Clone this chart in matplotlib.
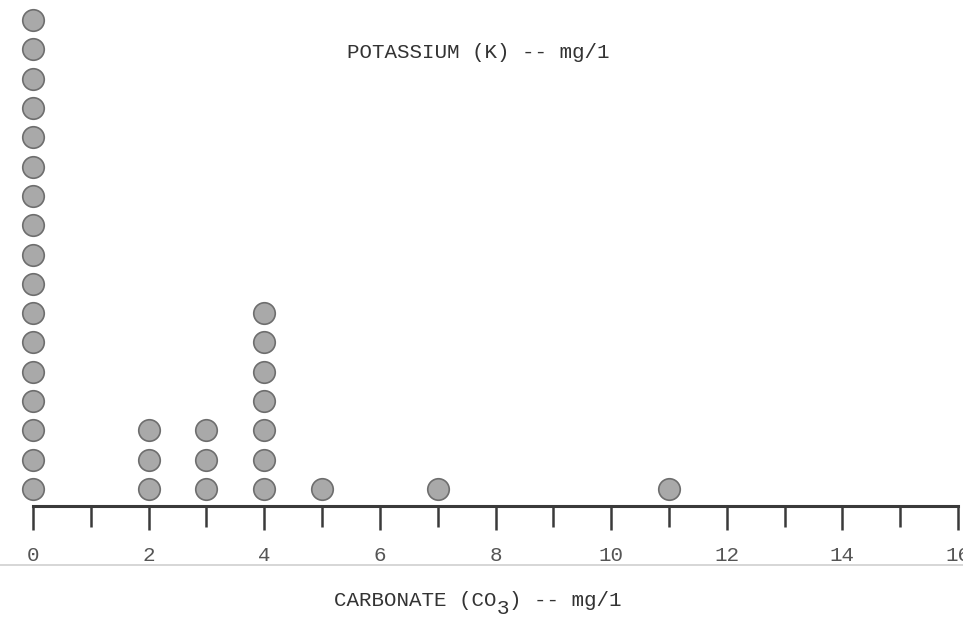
import matplotlib
matplotlib.use("Agg")
import matplotlib.pyplot as plt
from matplotlib.ticker import MultipleLocator
import numpy as np

# carbonate value (mg/l) and number of samples at that value
values = [0, 2, 3, 4, 5, 7, 11]
counts = [17, 3, 3, 7, 1, 1, 1]
tick_labels = ['0', '2', '4', '6', '8', '10', '12', '14', '16']

plt.rcParams['font.family'] = 'Liberation Mono'

ink = '#3a3a3a'

fig = plt.figure(figsize=(9.63, 6.22), dpi=100)
ax = fig.add_axes([33/963, 1 - 506/622, 925/963, 506/622])

xs = []
ys = []
for v, c in zip(values, counts):
    for k in range(1, c + 1):
        xs.append(v)
        ys.append(k)
ax.scatter(xs, ys, s=240, facecolor='#a9a9a9', edgecolor='#6e6e6e',
           linewidth=1.2, clip_on=False, zorder=3)

ax.set_xlim(0, 16)
ax.set_ylim(0.42, 17.684)

for s in ['top', 'right', 'left']:
    ax.spines[s].set_visible(False)
ax.spines['bottom'].set_linewidth(2.2)
ax.spines['bottom'].set_color(ink)
ax.set_yticks([])

ax.xaxis.set_major_locator(MultipleLocator(2))
ax.xaxis.set_minor_locator(MultipleLocator(1))
ax.set_xticks(np.arange(0, 17, 2))
ax.set_xticklabels(tick_labels)
ax.tick_params(axis='x', which='major', direction='out', length=17, width=1.8,
               color=ink, pad=12, labelsize=15, labelcolor='#555555')
ax.tick_params(axis='x', which='minor', direction='out', length=15, width=1.8,
               color=ink)

fig.text(0.497, 1 - 52/622, 'POTASSIUM (K) -- mg/1', ha='center', va='center',
         fontsize=15, color='#333333')

# x label: monospace, so the dropped "3" goes into the blank slot
xl_left = 334
xl_y = 600
char_w = 15 * 100 / 72 * 0.6
fig.text(xl_left/963, 1 - xl_y/622, 'CARBONATE (CO ) -- mg/1',
         ha='left', va='center', fontsize=15, color='#333333')
fig.text((xl_left + 13*char_w)/963, 1 - (xl_y + 9)/622, '3',
         ha='left', va='center', fontsize=15, color='#333333')

# faint scan line under the tick labels
fig.add_artist(plt.Line2D([0, 1], [1 - 565/622, 1 - 565/622],
                          transform=fig.transFigure, color='#cfcfcf', lw=1.2))

fig.savefig('out.png', dpi=100)
